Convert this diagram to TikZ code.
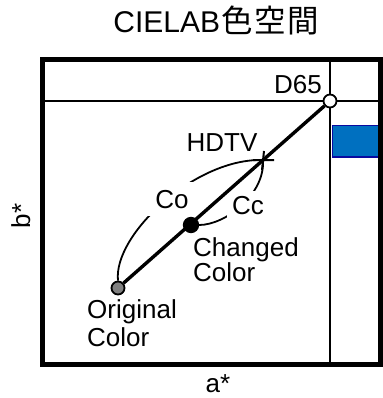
\documentclass[tikz,border=0pt]{standalone}
\usepackage{fontspec}
\setmainfont{Liberation Sans}
\newfontfamily\cjk{Noto Sans CJK JP}
\definecolor{blueA}{HTML}{0070C0}
\definecolor{blueB}{HTML}{0A0AA0}
\definecolor{grayA}{HTML}{808080}
\begin{document}
\begin{tikzpicture}[x=1pt,y=-1pt,
  lbl/.style={font=\fontsize{26}{28}\selectfont, inner sep=0pt},
  mask/.style={lbl, fill=white, inner sep=5pt},
  dot/.style={circle, draw=black, line width=1.8pt, inner sep=0pt, minimum size=13pt},
  thinline/.style={line width=2.4pt},
  curve/.style={line width=1.8pt}]
\useasboundingbox (0,0) rectangle (382,398);
% title
\node[anchor=base, inner sep=0pt, font=\fontsize{30}{32}\selectfont] (title) at (216,33)
  {CIELAB{\cjk\fontsize{31.5}{33}\selectfont\hspace{1pt}色\hspace{1.5pt}空\hspace{1.5pt}間}};
% blue patch
\path[fill=blueA, draw=blueB, line width=1.5pt] (332.5,125.5) rectangle (381,157);
% inner lines
\coordinate (hl) at (42.5,101);
\coordinate (hr) at (380,101);
\coordinate (vt) at (330,59.5);
\coordinate (vb) at (330,364.5);
\draw[thinline] (hl) -- (hr);
\draw[thinline] (vt) -- (vb);
% frame
\draw[line width=5pt] (42.5,59.5) rectangle (380,364.5);
% points
\node[dot, fill=white] (d65) at (330,101) {};
\node[dot, fill=black, minimum size=14.5pt] (chg) at (191,225) {};
\node[dot, fill=grayA] (orig) at (118,288) {};
\coordinate (hdtv) at (263,160);
% curves
\draw[curve] (orig.north) .. controls (113,235) and (195,158) .. (hdtv);
\draw[curve] (chg.east) .. controls (225,225) and (265,195) .. (hdtv);
\node[mask, anchor=base, inner xsep=9pt, inner ysep=8pt] (co) at (172,208) {Co};
\node[mask, anchor=base, inner sep=5pt] (cc) at (248,214) {Cc};
% main line
\draw[line width=3.4pt] (orig) -- (d65);
\draw[line width=2pt] ([xshift=-10pt]hdtv) -- ([xshift=11pt]hdtv)
  ([xshift=-1pt,yshift=-10pt]hdtv) -- ([xshift=1pt,yshift=9pt]hdtv);
% labels
\node[lbl, anchor=base east] (d65l) at (322,94) {D65};
\node[lbl, anchor=base] (hdtvl) at (222,151) {HDTV};
\node[lbl, anchor=base west] (chg1) at (193,256) {Changed};
\node[lbl, anchor=base west] (chg2) at (193,281) {Color};
\node[lbl, anchor=base west] (orig1) at (87,318) {Original};
\node[lbl, anchor=base west] (orig2) at (87,346) {Color};
\node[lbl, anchor=base] (ax) at (218,392) {a*};
\node[lbl, anchor=base, rotate=90] (bx) at (30,216) {b*};
\end{tikzpicture}
\end{document}
